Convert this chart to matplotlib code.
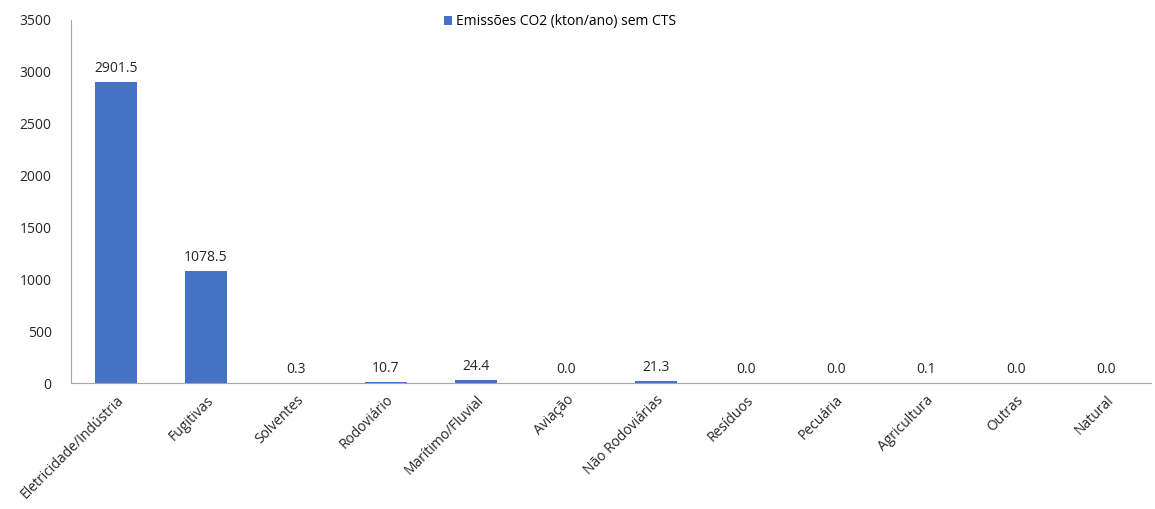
import matplotlib
matplotlib.use("Agg")
import matplotlib.pyplot as plt

setores = ["Eletricidade/Indústria", "Fugitivas", "Solventes", "Rodoviário",
           "Marítimo/Fluvial", "Aviação", "Não Rodoviárias", "Resíduos",
           "Pecuária", "Agricultura", "Outras", "Natural"]
emissoes = [2901.5, 1078.5, 0.3, 10.7, 24.4, 0.0, 21.3, 0.0, 0.0, 0.1, 0.0, 0.0]
yticks = [0, 500, 1000, 1500, 2000, 2500, 3000, 3500]

plt.rcParams["font.family"] = ["Open Sans", "DejaVu Sans"]

fig = plt.figure(figsize=(11.55, 5.09), dpi=100)
ax = fig.add_axes([0.0615, 0.2475, 0.935, 0.7135])

x = range(len(setores))
bars = ax.bar(x, emissoes, width=0.46, color="#4472C4",
              label="Emissões CO2 (kton/ano) sem CTS")
for xi, v in zip(x, emissoes):
    ax.text(xi, v + 60, f"{v:.1f}", ha="center", va="bottom", fontsize=10, color="#262626")

ax.set_xlim(-0.5, len(setores) - 0.5)
ax.set_ylim(0, 3500)
ax.set_yticks(yticks)
ax.set_xticks(list(x))
ax.set_xticklabels(setores, rotation=45, ha="right", rotation_mode="anchor", fontsize=10)
ax.tick_params(axis="both", length=0, labelsize=10, colors="#262626")
ax.tick_params(axis="y", pad=14)
ax.tick_params(axis="x", pad=7)

for s in ("top", "right"):
    ax.spines[s].set_visible(False)
ax.spines["left"].set_color("#a6a6a6")
ax.spines["bottom"].set_color("#a6a6a6")

ax.legend(loc="upper center", bbox_to_anchor=(0.453, 1.05), frameon=False,
          fontsize=10, handlelength=0.6, handleheight=0.6, handletextpad=0.3)

fig.savefig("out.png", dpi=100)
